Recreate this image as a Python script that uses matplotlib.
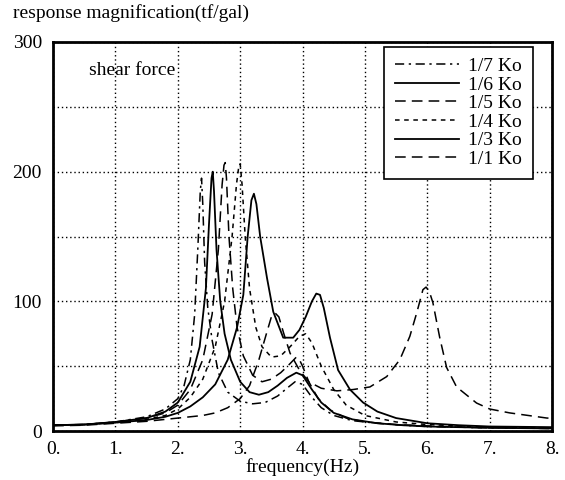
import matplotlib
matplotlib.use("Agg")
import matplotlib.pyplot as plt

# frequency (Hz) / response magnification (tf/gal)
f_k7 = [0, 0.5, 1.0, 1.5, 1.8, 2.0, 2.1, 2.2, 2.27, 2.32, 2.36, 2.38, 2.40, 2.43, 2.48, 2.55, 2.65, 2.8,
        3.0, 3.2, 3.4, 3.6, 3.75, 3.88, 4.0, 4.15, 4.3, 4.5, 4.8, 5.2, 5.6, 6.0, 6.5, 7.0, 8.0]
v_k7 = [4.5, 5, 7, 11, 17, 25, 35, 55, 90, 140, 185, 195, 175, 130, 95, 70, 45, 30,
        23, 21, 22, 27, 33, 38, 36, 26, 18, 12, 8, 6, 4.5, 3.5, 3, 2.5, 2]

f_k6 = [0, 0.5, 1.0, 1.5, 1.8, 2.0, 2.2, 2.35, 2.45, 2.5, 2.54, 2.56, 2.58, 2.62, 2.68, 2.75, 2.85,
        3.0, 3.15, 3.3, 3.45, 3.6, 3.75, 3.9, 4.0, 4.15, 4.3, 4.5, 4.8, 5.2, 5.6, 6.0, 6.5, 7.0, 8.0]
v_k6 = [4.5, 5, 7, 10, 15, 22, 38, 65, 110, 160, 195, 200, 185, 140, 100, 75, 55,
        38, 30, 28, 30, 35, 41, 45, 43, 32, 22, 14, 9, 6, 4.5, 3.5, 3, 2.5, 2]

f_k5 = [0, 0.5, 1.0, 1.5, 1.8, 2.0, 2.2, 2.4, 2.55, 2.65, 2.71, 2.74, 2.76, 2.78, 2.82, 2.88, 2.95,
        3.05, 3.2, 3.35, 3.5, 3.65, 3.8, 3.9, 3.95, 4.0, 4.1, 4.25, 4.45, 4.7, 5.0, 5.5, 6.0, 6.5, 7.0, 8.0]
v_k5 = [4.5, 5, 7, 10, 14, 20, 32, 55, 90, 140, 190, 205, 207, 195, 150, 110, 80,
        58, 43, 38, 40, 45, 52, 57, 55, 50, 38, 25, 16, 10, 7, 5, 4, 3, 2.5, 2]

f_k4 = [0, 0.5, 1.0, 1.5, 1.8, 2.0, 2.2, 2.4, 2.6, 2.75, 2.87, 2.94, 2.98, 3.0, 3.03, 3.08, 3.15,
        3.25, 3.35, 3.5, 3.65, 3.8, 3.95, 4.05, 4.15, 4.3, 4.5, 4.7, 5.0, 5.5, 6.0, 6.5, 7.0, 8.0]
v_k4 = [4.5, 5, 6.5, 9, 12, 17, 26, 40, 65, 100, 150, 190, 205, 206, 190, 150, 110,
        80, 65, 57, 58, 65, 73, 75, 68, 50, 32, 20, 12, 7, 5, 4, 3, 2.5]

f_k3 = [0, 0.5, 1.0, 1.5, 1.8, 2.0, 2.2, 2.4, 2.6, 2.8, 2.95, 3.05, 3.12, 3.18, 3.22, 3.26, 3.32,
        3.43, 3.53, 3.69, 3.85, 3.95, 4.05, 4.15, 4.22, 4.28, 4.34, 4.44, 4.57, 4.76, 4.97, 5.2,
        5.5, 6.0, 6.5, 7.0, 8.0]
v_k3 = [4.5, 5, 6.5, 8.5, 11, 14, 19, 26, 36, 55, 80, 105, 150, 178, 183, 175, 150,
        118, 92, 72, 72, 78, 88, 100, 106, 105, 95, 72, 47, 32, 22, 15,
        10, 6, 4.5, 3.5, 3]

f_k1 = [0, 0.5, 1.0, 1.5, 1.8, 2.0, 2.2, 2.4, 2.6, 2.8, 3.0, 3.15, 3.3, 3.42, 3.5, 3.56, 3.62,
        3.7, 3.8, 3.95, 4.1, 4.3, 4.55, 4.81, 5.08, 5.35, 5.56, 5.72, 5.83, 5.93, 5.98, 6.03,
        6.09, 6.2, 6.31, 6.47, 6.79, 7.0, 7.32, 7.92, 8.0]
v_k1 = [4, 4.5, 6, 7.5, 9, 10, 11, 12, 14, 18, 25, 35, 55, 75, 88, 91, 88,
        75, 60, 47, 38, 33, 31, 32, 34, 42, 55, 73, 91, 109, 111, 108,
        99, 72, 49, 34, 21.6, 17, 14, 10, 10]

labels = ["1/7 Ko", "1/6 Ko", "1/5 Ko", "1/4 Ko", "1/3 Ko", "1/1 Ko"]

plt.rcParams["font.family"] = ["Liberation Serif", "DejaVu Serif"]
plt.rcParams["font.size"] = 14

fig = plt.figure(figsize=(5.65, 4.8), dpi=100)
ax = fig.add_axes([0.094, 0.102, 0.883, 0.8105])

ax.plot(f_k7, v_k7, color="black", lw=1.1, dashes=(6, 3, 1.5, 3), label=labels[0])
ax.plot(f_k6, v_k6, color="black", lw=1.3, label=labels[1])
ax.plot(f_k5, v_k5, color="black", lw=1.1, dashes=(7, 4), label=labels[2])
ax.plot(f_k4, v_k4, color="black", lw=1.1, dashes=(3, 3), label=labels[3])
ax.plot(f_k3, v_k3, color="black", lw=1.3, label=labels[4])
ax.plot(f_k1, v_k1, color="black", lw=1.1, dashes=(7, 4), label=labels[5])

ax.set_xlim(0, 8)
ax.set_ylim(0, 300)
ax.set_xticks(range(9))
ax.set_xticklabels([f"{i}." for i in range(9)])
ax.set_yticks([0, 100, 200, 300])
ax.set_yticks([50, 150, 250], minor=True)
ax.tick_params(which="both", length=0)
ax.tick_params(axis="x", pad=7)
ax.tick_params(axis="y", pad=8)
ax.grid(True, which="both", color="black", linestyle=(0, (1, 2)), lw=1.0)
for s in ax.spines.values():
    s.set_linewidth(2)

ax.set_xlabel("frequency(Hz)", labelpad=0)
fig.text(0.023, 0.972, "response magnification(tf/gal)", va="center", ha="left")
ax.text(0.57, 278, "shear force", va="center", ha="left")

leg = ax.legend(loc="upper left", bbox_to_anchor=(0.663, 0.988), borderaxespad=0,
                handlelength=3.3, handletextpad=0.5, labelspacing=0.05,
                fancybox=False, framealpha=1, borderpad=0.55, fontsize=14)
leg.get_frame().set_edgecolor("black")
leg.get_frame().set_linewidth(1.2)

fig.savefig("out.png", dpi=100)
